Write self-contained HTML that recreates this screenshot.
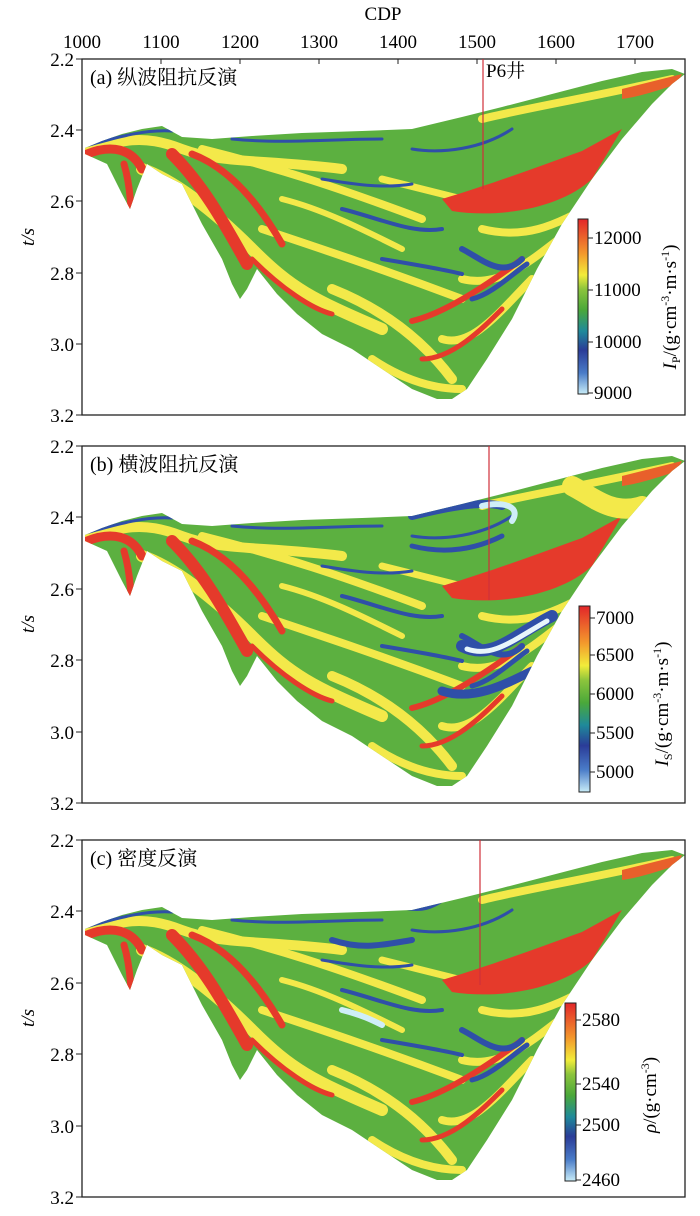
<!DOCTYPE html>
<html><head><meta charset="utf-8"><style>
body{margin:0;background:#fff;}
svg{display:block;font-family:"Liberation Serif","Noto Serif CJK SC",serif;}
</style></head><body>
<svg width="700" height="1216" viewBox="0 0 700 1216" xmlns="http://www.w3.org/2000/svg">
<defs>
<linearGradient id="cm" x1="0" y1="1" x2="0" y2="0">
<stop offset="0" stop-color="#c8ecf8"/><stop offset="0.12" stop-color="#4a7cc8"/><stop offset="0.25" stop-color="#2a3c98"/><stop offset="0.36" stop-color="#1f8a9a"/><stop offset="0.48" stop-color="#4aa83a"/><stop offset="0.6" stop-color="#8cc43c"/><stop offset="0.68" stop-color="#f2ec3a"/><stop offset="0.8" stop-color="#f39a2c"/><stop offset="1" stop-color="#e2262a"/>
</linearGradient>
<clipPath id="shp"><path d="M3,89 L20,82 40,75 60,70 80,67 100,78 130,80 170,77 220,74 280,72 330,70 380,58 420,48 470,35 520,22 560,13 590,10 603,15 590,25 570,45 540,80 510,120 480,165 455,210 430,260 405,300 385,330 370,340 355,340 330,330 300,310 270,290 240,275 215,255 195,235 175,210 165,230 158,240 150,225 140,200 120,165 100,125 80,115 65,105 55,130 48,150 40,135 25,105 3,95Z"/></clipPath>
<g id="body">
<g clip-path="url(#shp)">
<rect x="0" y="0" width="610" height="356" fill="#5cb040"/>
<g fill="none" stroke-linecap="round" stroke="#f3e94a">
<path d="M0,95 C40,80 60,75 100,90 S180,100 260,110" stroke-width="10"/>
<path d="M60,110 C90,120 130,150 170,190 S230,240 300,270" stroke-width="12"/>
<path d="M120,90 C200,110 260,130 340,160" stroke-width="8"/>
<path d="M180,170 C240,190 300,210 380,240" stroke-width="8"/>
<path d="M250,230 C300,250 340,280 370,320" stroke-width="10"/>
<path d="M300,120 C340,130 380,140 420,150" stroke-width="7"/>
<path d="M400,170 C440,180 470,170 520,140" stroke-width="8"/>
<path d="M380,220 C420,230 450,200 490,170" stroke-width="8"/>
<path d="M360,280 C390,290 420,250 450,220" stroke-width="8"/>
<path d="M400,60 C440,50 500,40 590,20" stroke-width="8"/>
<path d="M200,140 C240,150 280,170 320,190" stroke-width="6"/>
<path d="M290,300 C320,320 350,330 380,330" stroke-width="8"/>
</g>
<path d="M360,140 C410,125 450,110 500,92 L540,70 L510,120 C480,148 420,160 370,152 Z" fill="#e53a2b"/>
<path d="M540,30 C560,25 580,20 600,15 L595,25 C575,32 555,38 540,40Z" fill="#e8602b"/>
<g fill="none" stroke-linecap="round" stroke="#e53a2b">
<path d="M5,95 C30,85 50,90 60,110" stroke-width="9"/>
<path d="M42,105 C48,125 48,140 49,148" stroke-width="7"/>
<path d="M90,95 C120,125 140,160 165,205" stroke-width="12"/>
<path d="M110,95 C150,110 180,150 200,185" stroke-width="7"/>
<path d="M330,262 C360,255 400,230 440,200" stroke-width="6"/>
<path d="M340,300 C370,300 400,270 420,250" stroke-width="5"/>
<path d="M170,200 C200,230 230,250 250,255" stroke-width="5"/>
</g>
<g fill="none" stroke-linecap="round" stroke="#2f4fa8">
<path d="M260,150 C300,160 330,175 360,170" stroke-width="4"/>
<path d="M380,190 C400,200 420,220 440,200" stroke-width="6"/>
<path d="M390,240 C410,235 430,215 445,205" stroke-width="5"/>
<path d="M330,90 C360,95 400,90 430,70" stroke-width="3"/>
<path d="M150,80 C200,85 250,80 300,80" stroke-width="3"/>
<path d="M300,200 C330,205 360,210 380,215" stroke-width="4"/>
<path d="M0,88 C30,80 60,70 90,72" stroke-width="3"/>
<path d="M240,120 C270,125 300,130 330,125" stroke-width="3"/>
</g>
</g>
</g>
</defs>

<text x="383" y="20" font-size="19" text-anchor="middle">CDP</text>
<g font-size="19" text-anchor="middle">
<text x="82" y="48">1000</text><text x="161" y="48">1100</text><text x="240" y="48">1200</text><text x="319" y="48">1300</text><text x="398" y="48">1400</text><text x="477" y="48">1500</text><text x="556" y="48">1600</text><text x="635" y="48">1700</text>
</g>

<!-- Panel a -->
<g transform="translate(82,59)">
<use href="#body"/>
<rect x="0" y="0" width="603" height="356" fill="none" stroke="#222" stroke-width="1.3"/>
<g stroke="#222"><path d="M0,0h-6M0,71h-6M0,142h-6M0,214h-6M0,285h-6M0,356h-6"/>
<path d="M79,0v5M158,0v5M237,0v5M316,0v5M395,0v5M474,0v5M553,0v5"/></g>
<g font-size="19" text-anchor="end"><text x="-8" y="7">2.2</text><text x="-8" y="78">2.4</text><text x="-8" y="149">2.6</text><text x="-8" y="221">2.8</text><text x="-8" y="292">3.0</text><text x="-8" y="363">3.2</text></g>
<text x="-48" y="178" font-size="19" font-style="italic" transform="rotate(-90 -48 178)" text-anchor="middle">t/s</text>
<text x="8" y="25" font-size="20">(a) 纵波阻抗反演</text>
<line x1="401" y1="0" x2="401" y2="130" stroke="#d0303a" stroke-width="1.2"/>
<text x="404" y="18" font-size="19">P6井</text>
<rect x="496" y="160" width="10" height="175" fill="url(#cm)" stroke="#222" stroke-width="1"/>
<g stroke="#222"><path d="M506,179h5M506,231h5M506,283h5M506,334h5"/></g>
<g font-size="19"><text x="512" y="185">12000</text><text x="512" y="237">11000</text><text x="512" y="289">10000</text><text x="512" y="340">9000</text></g>
<text transform="translate(594,248) rotate(-90)" font-size="19" text-anchor="middle"><tspan font-style="italic">I</tspan><tspan font-size="12" dy="4">P</tspan><tspan dy="-4">/(g·cm</tspan><tspan font-size="12" dy="-7">-3</tspan><tspan dy="7">·m·s</tspan><tspan font-size="12" dy="-7">-1</tspan><tspan dy="7">)</tspan></text>
</g>

<!-- Panel b -->
<g transform="translate(82,446)">
<use href="#body"/>
<g clip-path="url(#shp)" fill="none" stroke-linecap="round">
<path d="M380,200 C410,215 430,190 470,170" stroke="#2f4fa8" stroke-width="12"/>
<path d="M385,203 C410,212 430,195 465,175" stroke="#e8f6fb" stroke-width="5"/>
<path d="M360,245 C390,255 420,240 450,225" stroke="#2f4fa8" stroke-width="9"/>
<path d="M330,70 C370,60 400,55 420,60" stroke="#2f4fa8" stroke-width="8"/>
<path d="M400,60 C420,55 440,60 430,75" stroke="#cfeef8" stroke-width="6"/>
<path d="M330,100 C370,110 400,100 420,90" stroke="#2f4fa8" stroke-width="5"/>
<path d="M490,40 C510,50 530,70 560,60" stroke="#f3e94a" stroke-width="20"/>
</g>
<rect x="0" y="0" width="603" height="357" fill="none" stroke="#222" stroke-width="1.3"/>
<g stroke="#222"><path d="M0,0h-6M0,71h-6M0,143h-6M0,214h-6M0,286h-6M0,357h-6"/></g>
<g font-size="19" text-anchor="end"><text x="-8" y="7">2.2</text><text x="-8" y="78">2.4</text><text x="-8" y="150">2.6</text><text x="-8" y="221">2.8</text><text x="-8" y="293">3.0</text><text x="-8" y="364">3.2</text></g>
<text x="-48" y="178" font-size="19" font-style="italic" transform="rotate(-90 -48 178)" text-anchor="middle">t/s</text>
<text x="8" y="25" font-size="20">(b) 横波阻抗反演</text>
<line x1="407" y1="0" x2="407" y2="154" stroke="#d0303a" stroke-width="1.2"/>
<rect x="497" y="160" width="11" height="186" fill="url(#cm)" stroke="#222" stroke-width="1"/>
<g stroke="#222"><path d="M508,172h5M508,209h5M508,248h5M508,287h5M508,326h5"/></g>
<g font-size="19"><text x="514" y="178">7000</text><text x="514" y="215">6500</text><text x="514" y="254">6000</text><text x="514" y="293">5500</text><text x="514" y="332">5000</text></g>
<text transform="translate(586,258) rotate(-90)" font-size="19" text-anchor="middle"><tspan font-style="italic">I</tspan><tspan font-size="12" dy="4">S</tspan><tspan dy="-4">/(g·cm</tspan><tspan font-size="12" dy="-7">-3</tspan><tspan dy="7">·m·s</tspan><tspan font-size="12" dy="-7">-1</tspan><tspan dy="7">)</tspan></text>
</g>

<!-- Panel c -->
<g transform="translate(82,840)">
<use href="#body"/>
<g clip-path="url(#shp)" fill="none" stroke-linecap="round">
<path d="M250,100 C280,110 300,105 330,100" stroke="#2f4fa8" stroke-width="6"/>
<path d="M260,170 C280,175 290,180 300,185" stroke="#cfeef8" stroke-width="6"/>
<path d="M320,65 C340,70 350,65 360,58" stroke="#2f4fa8" stroke-width="8"/>
</g>
<rect x="0" y="0" width="603" height="357" fill="none" stroke="#222" stroke-width="1.3"/>
<g stroke="#222"><path d="M0,0h-6M0,71h-6M0,143h-6M0,214h-6M0,286h-6M0,357h-6"/></g>
<g font-size="19" text-anchor="end"><text x="-8" y="7">2.2</text><text x="-8" y="78">2.4</text><text x="-8" y="150">2.6</text><text x="-8" y="221">2.8</text><text x="-8" y="293">3.0</text><text x="-8" y="364">3.2</text></g>
<text x="-48" y="178" font-size="19" font-style="italic" transform="rotate(-90 -48 178)" text-anchor="middle">t/s</text>
<text x="8" y="25" font-size="20">(c) 密度反演</text>
<line x1="398" y1="0" x2="398" y2="145" stroke="#d0303a" stroke-width="1.2"/>
<rect x="483" y="163" width="11" height="178" fill="url(#cm)" stroke="#222" stroke-width="1"/>
<g stroke="#222"><path d="M494,180h5M494,244h5M494,285h5M494,340h5"/></g>
<g font-size="19"><text x="500" y="186">2580</text><text x="500" y="250">2540</text><text x="500" y="291">2500</text><text x="500" y="346">2460</text></g>
<text transform="translate(574,255) rotate(-90)" font-size="19" text-anchor="middle"><tspan font-style="italic">ρ</tspan><tspan>/(g·cm</tspan><tspan font-size="12" dy="-7">-3</tspan><tspan dy="7">)</tspan></text>
</g>
</svg>
</body></html>
